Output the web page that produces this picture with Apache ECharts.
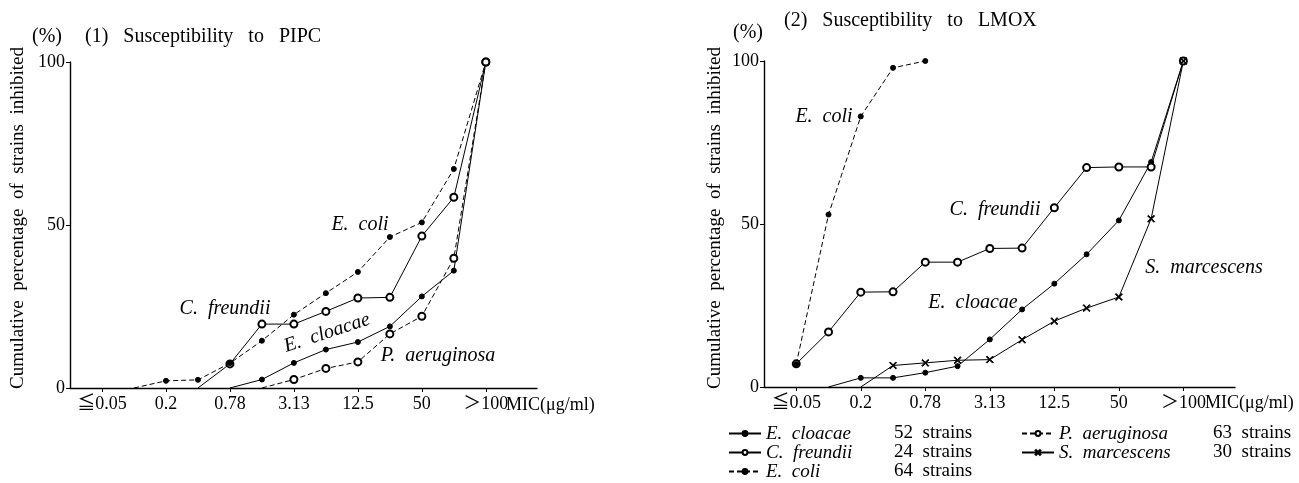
<!DOCTYPE html>
<html>
<head>
<meta charset="utf-8">
<script src="https://cdn.jsdelivr.net/npm/echarts@6/dist/echarts.min.js"></script>
<style>
  html, body { margin: 0; background: #fff; }
  #chart { width: 1299px; height: 483px; }
</style>
</head>
<body>
<div id="chart"></div>
<script>
const MIC = ["≦0.05", "0.1", "0.2", "0.39", "0.78", "1.56", "3.13", "6.25", "12.5", "25", "50", "100", "＞100"];

// (1) PIPC, cumulative % inhibited per MIC step (null = no point)
const pipcEcloacae = [null, null, null, null, 0, 2.6, 7.7, 11.8, 14.1, 18.9, 28.1, 36.0, 100];
const pipcFreundii = [null, null, null, 0, 7.4, 19.6, 19.6, 23.5, 27.6, 27.8, 46.6, 58.5, 100];
const pipcColi = [null, 0, 2.2, 2.5, 7.6, 14.5, 22.5, 29.1, 35.6, 46.3, 50.8, 67.2, 100];
const pipcAeruginosa = [null, null, null, null, null, 0, 2.6, 6.0, 8.0, 16.6, 22.0, 39.8, 100];

// (2) LMOX
const lmoxEcloacae = [null, 0, 2.8, 2.8, 4.4, 6.4, 14.6, 23.8, 31.7, 40.7, 51.1, 69.0, 100];
const lmoxFreundii = [7.1, 16.9, 29.1, 29.2, 38.3, 38.3, 42.5, 42.6, 55.0, 67.3, 67.5, 67.5, 100];
const lmoxColi = [7.0, 52.9, 83.0, 97.9, 100, null, null, null, null, null, null, null, null];
const lmoxMarcescens = [null, null, 0, 6.6, 7.4, 8.2, 8.4, 14.5, 20.2, 24.2, 27.6, 51.6, 100];

const STRAINS = { "E. cloacae": 52, "C. freundii": 24, "E. coli": 64, "P. aeruginosa": 63, "S. marcescens": 30 };

const SERIF = "'Liberation Serif', 'DejaVu Serif', 'Noto Sans CJK JP', serif";
const CROSS = "path://M0,1L1,0L5,4L9,0L10,1L6,5L10,9L9,10L5,6L1,10L0,9L4,5Z";

const STYLE = {
  "E. cloacae": { symbol: "circle", size: 5, dash: "solid" },
  "C. freundii": { symbol: "emptyCircle", size: 7, dash: "solid" },
  "E. coli": { symbol: "circle", size: 5, dash: [5, 3] },
  "P. aeruginosa": { symbol: "emptyCircle", size: 7, dash: [5, 3] },
  "S. marcescens": { symbol: CROSS, size: 7, dash: "solid" }
};

function toPoints(values) {
  return values
    .map((v, i) => {
      if (v == null) return null;
      const first = i === 0 || values[i - 1] == null;
      // curves leave the baseline without a marker
      return v === 0 && first ? { value: [i, v], symbol: "none" } : [i, v];
    })
    .filter(Boolean);
}

function line(name, values, panel) {
  const s = STYLE[name];
  return {
    name,
    type: "line",
    xAxisIndex: panel,
    yAxisIndex: panel,
    data: toPoints(values),
    symbol: s.symbol,
    symbolSize: s.size,
    showSymbol: true,
    silent: true,
    animation: false,
    lineStyle: { color: "#000", width: 1, type: s.dash },
    itemStyle: { color: "#000", borderColor: "#000", borderWidth: 1 }
  };
}

function xAxis(panel) {
  return {
    type: "value",
    gridIndex: panel,
    min: -1,
    max: 13.6,
    axisLine: { onZero: false, lineStyle: { color: "#000", width: 1.4 } },
    axisTick: { customValues: [0, 2, 4, 6, 8, 10, 12], length: 4, lineStyle: { color: "#000" } },
    axisLabel: {
      customValues: [0, 2, 4, 6, 8, 10, 12],
      formatter: (v) => MIC[v],
      color: "#000", fontFamily: SERIF, fontSize: 18, margin: 7
    },
    splitLine: { show: false }
  };
}

function yAxis(panel) {
  return {
    type: "value",
    gridIndex: panel,
    min: 0,
    max: 100,
    interval: 50,
    axisLine: { show: true, onZero: false, lineStyle: { color: "#000", width: 1.4 } },
    axisTick: { show: true, length: 4, lineStyle: { color: "#000" } },
    axisLabel: { color: "#000", fontFamily: SERIF, fontSize: 18, margin: 5 },
    splitLine: { show: false }
  };
}

function text(x, y, str, extra) {
  return {
    type: "text", x, y, silent: true,
    style: Object.assign({ text: str, fill: "#000", font: `20px ${SERIF}`, textVerticalAlign: "middle" }, extra)
  };
}

function legendCol(names, left, nameWidth) {
  return {
    data: names,
    orient: "vertical",
    left,
    top: 424,
    padding: 0,
    itemWidth: 32,
    itemHeight: 6,
    itemGap: 0,
    selectedMode: false,
    textStyle: {
      color: "#000", fontFamily: SERIF, fontSize: 19, lineHeight: 19,
      rich: {
        n: { width: nameWidth, fontStyle: "italic", fontFamily: SERIF, fontSize: 19, lineHeight: 19 },
        s: { fontFamily: SERIF, fontSize: 19, lineHeight: 19 }
      }
    },
    formatter: (name) => `{n|${name.replace(". ", ".  ")}}{s|${STRAINS[name]}  strains}`
  };
}

const chart = echarts.init(document.getElementById("chart"), null, { renderer: "canvas" });

const italic = { font: `italic 20px ${SERIF}`, textAlign: "center" };
const yName = "Cumulative  percentage  of  strains  inhibited";

chart.setOption({
  animation: false,
  backgroundColor: "#fff",
  grid: [
    { left: 70, right: 762, top: 62, bottom: 95 },
    { left: 764, right: 64, top: 61, bottom: 96 }
  ],
  xAxis: [xAxis(0), xAxis(1)],
  yAxis: [yAxis(0), yAxis(1)],
  legend: [
    legendCol(["E. cloacae", "C. freundii", "E. coli"], 728, 128),
    legendCol(["P. aeruginosa", "S. marcescens"], 1021, 154)
  ],
  series: [
    line("E. cloacae", pipcEcloacae, 0),
    line("C. freundii", pipcFreundii, 0),
    line("E. coli", pipcColi, 0),
    line("P. aeruginosa", pipcAeruginosa, 0),
    line("E. cloacae", lmoxEcloacae, 1),
    line("C. freundii", lmoxFreundii, 1),
    line("E. coli", lmoxColi, 1),
    line("S. marcescens", lmoxMarcescens, 1)
  ],
  graphic: [
    // panel (1)
    text(32, 37, "(%)"),
    text(85, 37, "(1)   Susceptibility   to   PIPC"),
    Object.assign(text(18, 218, yName, { textAlign: "center", font: `19px ${SERIF}` }), { rotation: Math.PI / 2 }),
    text(506, 405, "MIC(μg/ml)", { font: `18px ${SERIF}` }),
    text(360, 225, "E.  coli", italic),
    text(225, 309, "C.  freundii", italic),
    text(438, 356, "P.  aeruginosa", italic),
    Object.assign(text(327, 333, "E.  cloacae", italic), { rotation: 0.32 }),
    // panel (2)
    text(733, 33, "(%)"),
    text(784, 21, "(2)   Susceptibility   to   LMOX"),
    Object.assign(text(715, 218, yName, { textAlign: "center", font: `19px ${SERIF}` }), { rotation: Math.PI / 2 }),
    text(1205, 403, "MIC(μg/ml)", { font: `18px ${SERIF}` }),
    text(824, 117, "E.  coli", italic),
    text(995, 210, "C.  freundii", italic),
    text(973, 303, "E.  cloacae", italic),
    text(1204, 268, "S.  marcescens", italic)
  ]
});
</script>
</body>
</html>
